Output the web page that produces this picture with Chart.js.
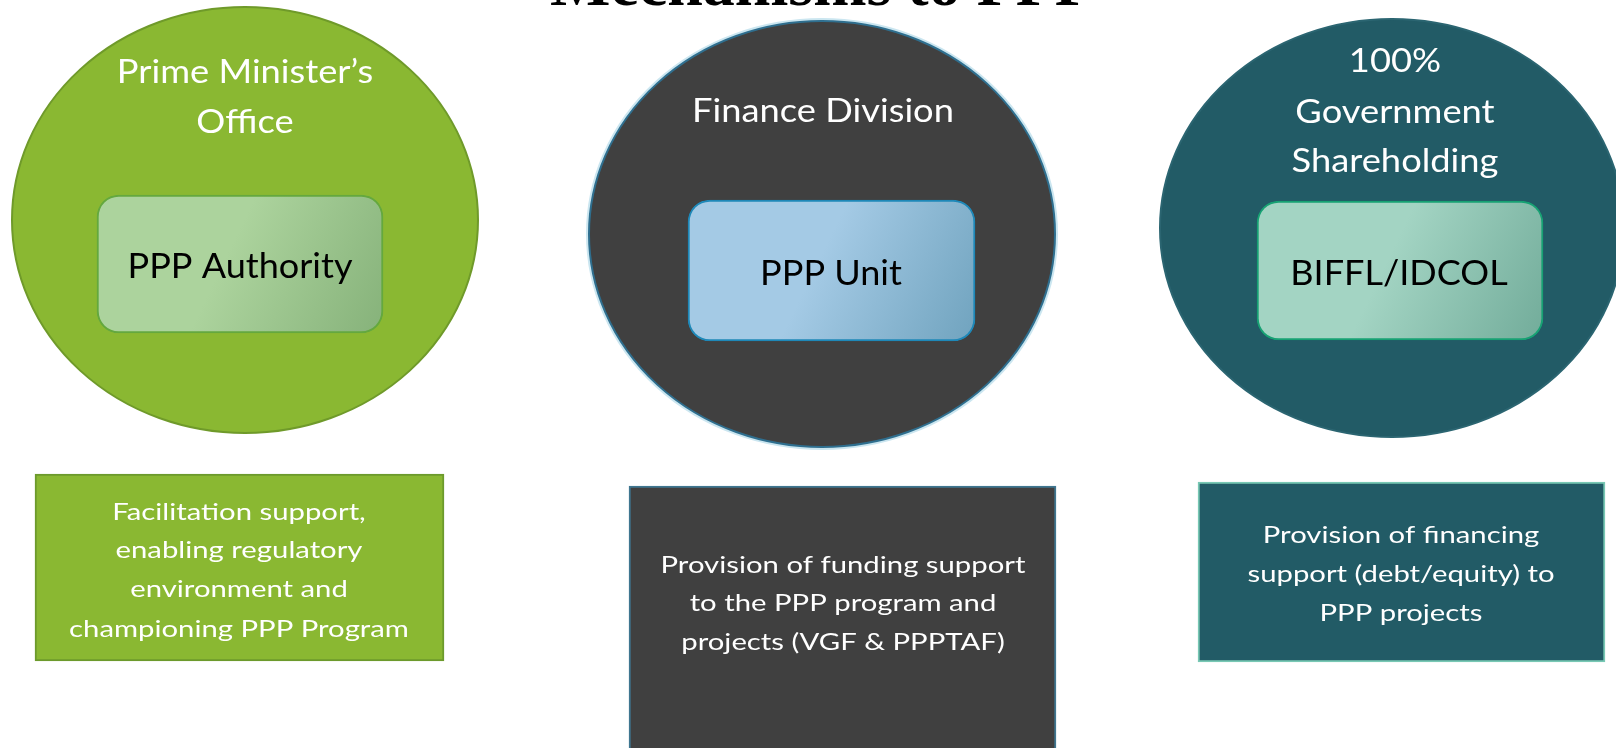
<!DOCTYPE html>
<html>
<head>
<meta charset="utf-8">
<script src="https://cdn.jsdelivr.net/npm/chart.js@4.4.1/dist/chart.umd.min.js"></script>
<style>
  html, body { margin: 0; padding: 0; background: #fff; }
  #wrap { width: 1616px; height: 748px; }
</style>
</head>
<body>
<div id="wrap"><canvas id="diagram" width="1616" height="748"></canvas></div>
<script>
// text content
var title = "Mechanisms to PPP";
var owners = [["Prime Minister’s", "Office"], ["Finance Division"], ["100%", "Government", "Shareholding"]];
var units = ["PPP Authority", "PPP Unit", "BIFFL/IDCOL"];
var roles = [
  ["Facilitation support,", "enabling regulatory", "environment and", "championing PPP Program"],
  ["Provision of funding support", "to the PPP program and", "projects (VGF & PPPTAF)"],
  ["Provision of financing", "support (debt/equity) to", "PPP projects"]
];

// layout in page units (x to the right, y downwards)
var circles = [
  {x: 245, y: 220, rx: 233, ry: 213},
  {x: 822, y: 234, rx: 233, ry: 213},
  {x: 1392, y: 228, rx: 232, ry: 209}
];
var unitBoxes = [
  {x0: 97, x1: 383, y0: 195, y1: 333},
  {x0: 688, x1: 975, y0: 200, y1: 341},
  {x0: 1257, x1: 1543, y0: 201, y1: 340}
];
var roleBoxes = [
  {x0: 35, x1: 444, y0: 474, y1: 661},
  {x0: 629, x1: 1056, y0: 486, y1: 752},
  {x0: 1198, x1: 1605, y0: 482, y1: 662}
];
var ownerText = [{x: 245, y: [83, 133]}, {x: 823, y: [122]}, {x: 1395, y: [72, 123, 172]}];
var unitText = [{x: 240, y: 278}, {x: 831, y: 285}, {x: 1399, y: 285}];
var roleText = [{x: 239, y: [520, 558, 597, 637]}, {x: 843, y: [573, 611, 650]}, {x: 1401, y: [543, 582, 621]}];

// styles
var circleFill = ["#8ab832", "#404040", "#225b66"];
var circleEdge = ["#6f9a2a", "#2f6f8f", "#2b6571"];
var unitGrad = [["#acd39d", "#86b27a"], ["#a4cae5", "#70a3be"], ["#a3d4c3", "#72ac9a"]];
var unitEdge = ["#64a83e", "#1e88b8", "#17a173"];
var roleFill = ["#8ab832", "#404040", "#225b66"];
var roleEdge = ["#6c9a2c", "#3f7690", "#78c8b4"];
var fontName = "Lato";

function px(chart, v) { return chart.scales.x.getPixelForValue(v); }
function py(chart, v) { return chart.scales.y.getPixelForValue(v); }

// draws one centred line, stretched sideways (the source font is wider than Lato)
function drawLine(ctx, t, x, y, sx) {
  ctx.save();
  ctx.translate(x, y);
  ctx.scale(sx, 1);
  ctx.fillText(t, 0, 0);
  ctx.restore();
}

function gradFor(i) {
  return function(ctx) {
    var chart = ctx.chart;
    if (!chart.chartArea) return unitGrad[i][0];
    var b = unitBoxes[i];
    var g = chart.ctx.createLinearGradient(px(chart, b.x0), py(chart, b.y0), px(chart, b.x1), py(chart, b.y1));
    g.addColorStop(0, unitGrad[i][0]);
    g.addColorStop(0.45, unitGrad[i][0]);
    g.addColorStop(1, unitGrad[i][1]);
    return g;
  };
}

var datasets = [];
roleBoxes.forEach(function(b, i) {
  datasets.push({
    data: [{x: (b.x0 + b.x1) / 2, y: [b.y0, b.y1]}],
    barThickness: b.x1 - b.x0,
    backgroundColor: roleFill[i],
    borderColor: roleEdge[i],
    borderWidth: 2,
    borderSkipped: false,
    skipNull: true
  });
});
unitBoxes.forEach(function(b, i) {
  datasets.push({
    data: [{x: (b.x0 + b.x1) / 2 + 0.01, y: [b.y0, b.y1]}],
    barThickness: b.x1 - b.x0,
    backgroundColor: gradFor(i),
    borderColor: unitEdge[i],
    borderWidth: 2,
    borderRadius: 22,
    borderSkipped: false,
    skipNull: true
  });
});

var circlePlugin = {
  id: 'circles',
  beforeDatasetsDraw: function(chart) {
    var ctx = chart.ctx;
    circles.forEach(function(c, i) {
      var cx = px(chart, c.x), cy = py(chart, c.y);
      var rx = px(chart, c.x + c.rx) - cx, ry = py(chart, c.y + c.ry) - cy;
      ctx.save();
      if (i === 1) {
        ctx.beginPath();
        ctx.ellipse(cx, cy, rx + 1.5, ry + 1.5, 0, 0, Math.PI * 2);
        ctx.strokeStyle = "#cbe6f0";
        ctx.lineWidth = 3;
        ctx.stroke();
      }
      ctx.beginPath();
      ctx.ellipse(cx, cy, rx, ry, 0, 0, Math.PI * 2);
      ctx.fillStyle = circleFill[i];
      ctx.fill();
      ctx.strokeStyle = circleEdge[i];
      ctx.lineWidth = 2;
      ctx.stroke();
      ctx.restore();
    });
  },
  afterDatasetsDraw: function(chart) {
    var ctx = chart.ctx;
    ctx.save();
    ctx.textAlign = "center";
    ctx.textBaseline = "alphabetic";

    ctx.fillStyle = "#000";
    ctx.font = "bold 64px 'Liberation Serif'";
    ctx.fillText(title, px(chart, 822), py(chart, 5));

    ctx.fillStyle = "#fff";
    ctx.font = "33px " + fontName;
    owners.forEach(function(lines, i) {
      lines.forEach(function(t, k) {
        drawLine(ctx, t, px(chart, ownerText[i].x), py(chart, ownerText[i].y[k]), 1.1);
      });
    });

    ctx.fillStyle = "#000";
    ctx.font = "35px " + fontName;
    units.forEach(function(t, i) {
      drawLine(ctx, t, px(chart, unitText[i].x), py(chart, unitText[i].y), 1.03);
    });

    ctx.fillStyle = "#fff";
    ctx.font = "24px " + fontName;
    roles.forEach(function(lines, i) {
      lines.forEach(function(t, k) {
        drawLine(ctx, t, px(chart, roleText[i].x), py(chart, roleText[i].y[k]), 1.22);
      });
    });
    ctx.restore();
  }
};

var bgPlugin = {
  id: 'bg',
  beforeDraw: function(chart) {
    var ctx = chart.ctx;
    ctx.save();
    ctx.fillStyle = "#fff";
    ctx.fillRect(0, 0, chart.width, chart.height);
    ctx.restore();
  }
};

new Chart(document.getElementById("diagram"), {
  type: 'bar',
  data: { datasets: datasets },
  options: {
    responsive: false,
    animation: false,
    events: [],
    layout: { padding: 0 },
    plugins: { legend: { display: false }, tooltip: { enabled: false } },
    scales: {
      x: { type: 'linear', min: 0, max: 1616, offset: false, display: false },
      y: { type: 'linear', min: 0, max: 748, reverse: true, display: false }
    }
  },
  plugins: [bgPlugin, circlePlugin]
});
</script>
</body>
</html>
